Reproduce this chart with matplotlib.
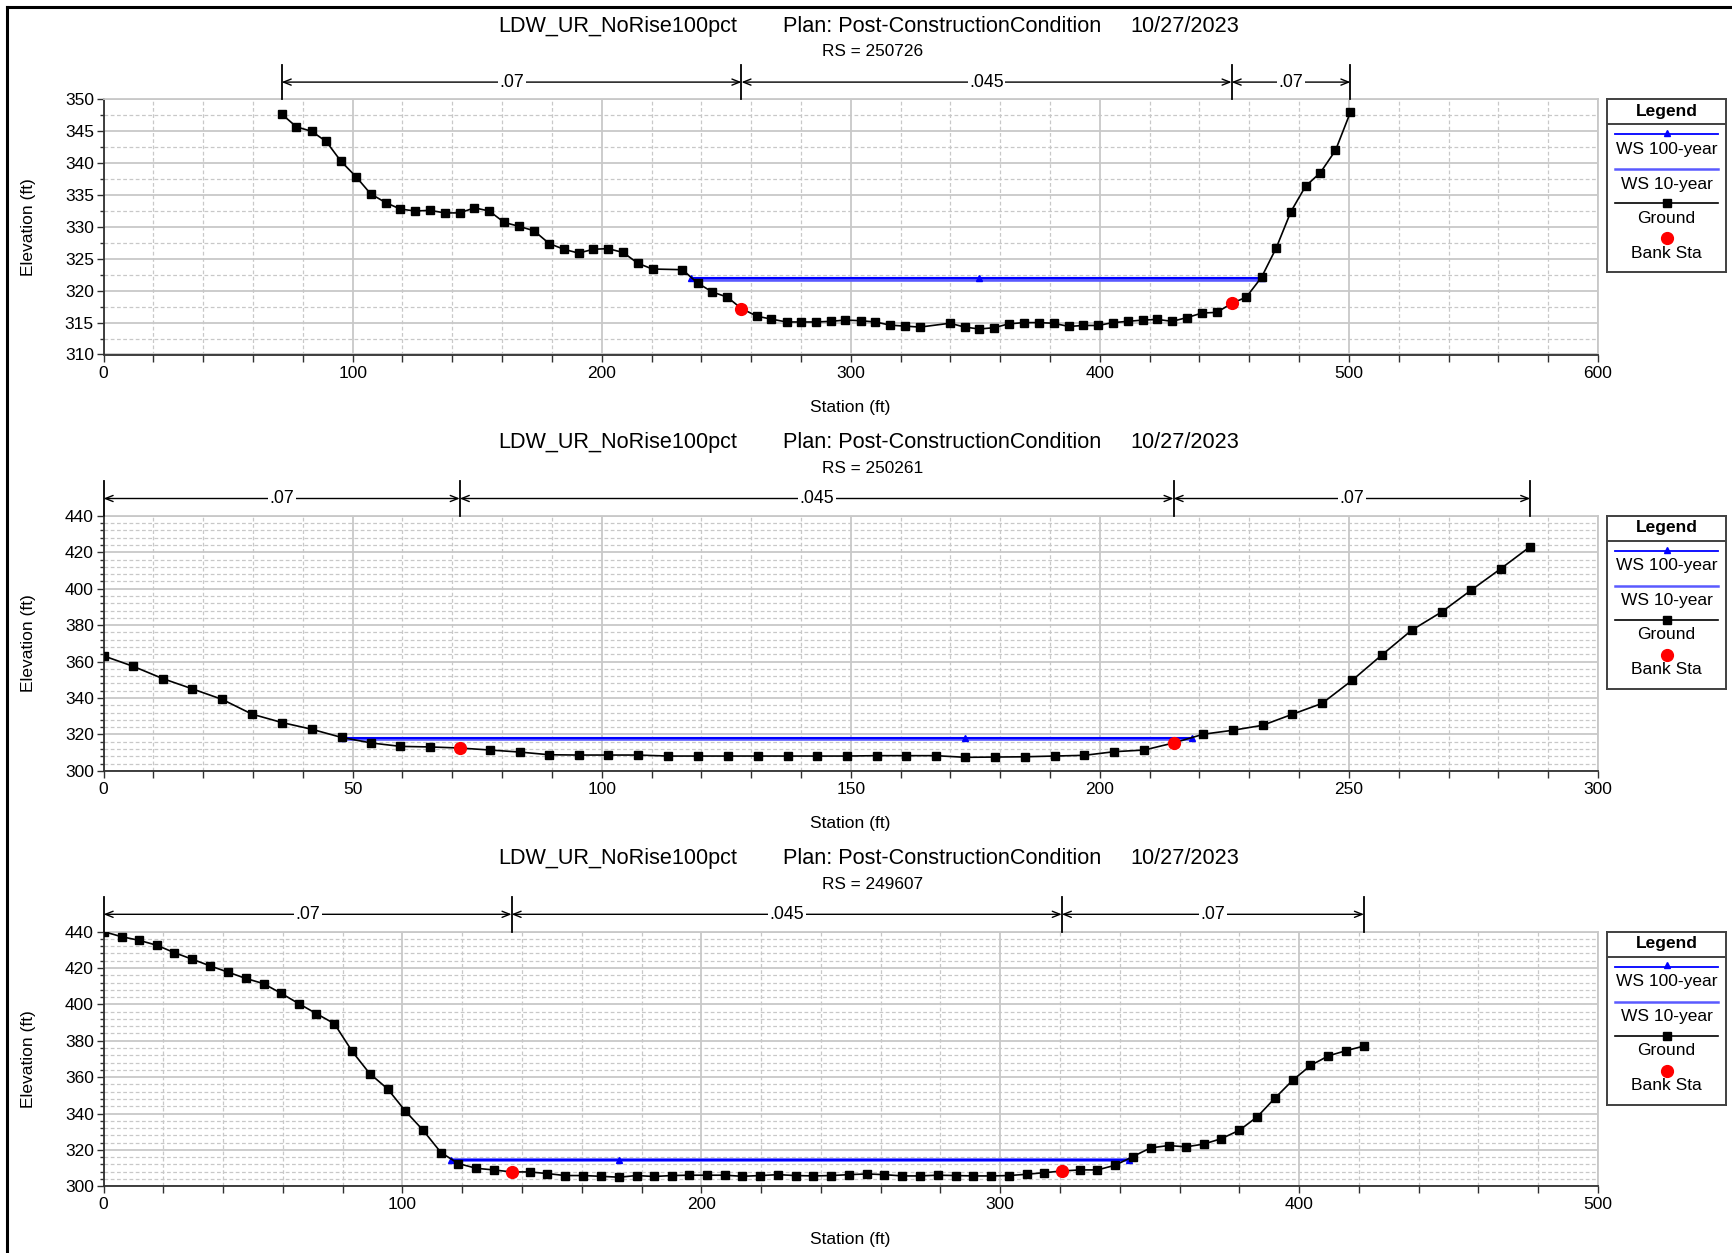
import matplotlib
matplotlib.use('Agg')
import matplotlib.pyplot as plt
import matplotlib.transforms as mtransforms
from matplotlib.lines import Line2D
from matplotlib.ticker import MultipleLocator

plt.rcParams['font.family'] = ['Liberation Sans', 'DejaVu Sans']

# ---------------- data ----------------
plan_name = "LDW_UR_NoRise100pct"
plan_text = "Plan: Post-ConstructionCondition"
date_text = "10/27/2023"
rs_labels = ["RS = 250726", "RS = 250261", "RS = 249607"]

# Panel 1 (RS 250726)
g1_sta = [71.5, 77.4, 83.5, 89.4, 95.3, 101.3, 107.2, 113.3, 119.2, 125.1, 131.0, 137.1,
          143.0, 148.9, 154.8, 160.9, 166.8, 172.8, 178.9, 184.8, 190.7, 196.6, 202.5,
          208.6, 214.5, 220.4, 232.4, 238.5, 244.4, 250.4, 256.1, 262.4, 268.1, 274.2,
          280.1, 286.0, 291.9, 297.8, 303.9, 309.9, 315.8, 321.7, 327.8, 339.8, 345.7,
          351.6, 357.5, 363.4, 369.5, 375.4, 381.4, 387.5, 393.4, 399.3, 405.2, 411.3,
          417.2, 423.1, 429.0, 435.1, 441.0, 446.9, 452.9, 458.8, 464.9, 470.8, 476.7,
          482.6, 488.5, 494.6, 500.6]
g1_elev = [347.7, 345.7, 345.0, 343.4, 340.3, 337.9, 335.2, 333.8, 332.8, 332.5, 332.6, 332.2,
           332.2, 333.0, 332.5, 330.7, 330.1, 329.4, 327.4, 326.5, 325.9, 326.5, 326.6,
           326.0, 324.3, 323.4, 323.3, 321.2, 319.8, 319.0, 317.2, 316.0, 315.55, 315.1,
           315.1, 315.1, 315.2, 315.4, 315.3, 315.1, 314.6, 314.45, 314.3, 314.9, 314.3,
           314.0, 314.2, 314.8, 315.0, 315.0, 314.9, 314.4, 314.55, 314.55, 315.0, 315.2,
           315.4, 315.5, 315.2, 315.8, 316.5, 316.6, 318.0, 319.0, 322.1, 326.7, 332.4,
           336.4, 338.5, 342.0, 348.0]
ws100_1_sta = [236.0, 351.6, 464.9]
ws100_1_elev = [322.05, 322.05, 322.05]
ws10_1_sta = [236.4, 464.6]
ws10_1_elev = [321.7, 321.7]
bank1_sta = [256.1, 452.9]
bank1_elev = [317.2, 318.0]
n1_breaks = [71.5, 256.1, 452.9, 500.6]
n1_values = [".07", ".045", ".07"]

# Panel 2 (RS 250261)
g2_sta = [0, 5.9, 11.9, 17.8, 23.8, 29.8, 35.8, 41.8, 47.8, 53.7, 59.6, 65.6, 71.5, 77.6,
          83.5, 89.5, 95.4, 101.3, 107.3, 113.3, 119.3, 125.3, 131.3, 137.3, 143.2, 149.2,
          155.2, 161.1, 167.1, 173.0, 179.0, 184.9, 190.9, 196.9, 202.9, 208.9, 214.8,
          220.8, 226.8, 232.7, 238.6, 244.6, 250.7, 256.7, 262.6, 268.6, 274.5, 280.5, 286.4]
g2_elev = [363.1, 357.4, 350.6, 345.0, 339.2, 331.1, 326.5, 322.8, 318.3, 315.3, 313.4, 313.1,
           312.5, 311.4, 310.3, 308.8, 308.65, 308.65, 308.65, 308.1, 308.1, 308.1, 308.1,
           308.1, 308.1, 308.1, 308.3, 308.3, 308.3, 307.4, 307.55, 307.7, 308.1, 308.5,
           310.5, 311.4, 315.3, 320.1, 322.3, 325.0, 331.0, 337.0, 349.8, 363.8, 377.2,
           387.2, 399.1, 411.0, 423.1]
ws100_2_sta = [47.8, 173.0, 218.4]
ws100_2_elev = [318.0, 318.0, 318.0]
ws10_2_sta = [48.3, 218.0]
ws10_2_elev = [317.6, 317.6]
bank2_sta = [71.5, 214.8]
bank2_elev = [312.5, 315.3]
n2_breaks = [0, 71.5, 214.8, 286.4]
n2_values = [".07", ".045", ".07"]

# Panel 3 (RS 249607)
g3_sta = [0, 6.0, 11.9, 17.8, 23.7, 29.7, 35.7, 41.5, 47.5, 53.5, 59.4, 65.3, 71.2, 77.2,
          83.2, 89.0, 95.0, 101.0, 106.9, 112.9, 118.7, 124.7, 130.5, 136.5, 142.5, 148.5,
          154.4, 160.4, 166.4, 172.4, 178.3, 184.2, 190.1, 196.0, 201.9, 207.8, 213.7,
          219.7, 225.7, 231.5, 237.5, 243.4, 249.4, 255.4, 261.2, 267.2, 273.1, 279.1,
          285.1, 291.0, 297.0, 302.8, 308.8, 314.8, 320.6, 326.6, 332.5, 338.5, 344.3,
          350.3, 356.3, 362.2, 368.1, 374.0, 380.0, 386.0, 391.8, 397.8, 403.8, 409.8,
          415.8, 421.7]
g3_elev = [440.0, 437.2, 435.2, 432.5, 428.4, 424.8, 421.1, 417.8, 414.3, 411.4, 406.1,
           400.4, 394.9, 389.4, 374.1, 362.0, 353.6, 341.3, 330.8, 318.5, 312.5, 309.9,
           309.0, 307.9, 307.9, 307.0, 305.9, 305.9, 305.5, 305.0, 305.9, 305.4, 305.9,
           306.1, 306.1, 306.1, 305.5, 305.9, 306.4, 305.9, 305.7, 305.9, 306.4, 306.8,
           306.4, 305.7, 305.7, 306.1, 305.9, 305.7, 305.7, 305.9, 306.6, 307.5, 308.4,
           309.0, 309.0, 311.6, 316.3, 321.1, 322.4, 321.7, 323.2, 326.2, 330.8, 338.2,
           348.3, 358.2, 366.4, 371.7, 374.6, 377.1]
ws100_3_sta = [116.2, 172.4, 343.0]
ws100_3_elev = [314.7, 314.7, 314.7]
ws10_3_sta = [116.6, 342.6]
ws10_3_elev = [314.3, 314.3]
bank3_sta = [136.5, 320.6]
bank3_elev = [307.9, 308.4]
n3_breaks = [0, 136.5, 320.6, 421.7]
n3_values = [".07", ".045", ".07"]

legend_labels = ["WS 100-year", "WS 10-year", "Ground", "Bank Sta"]

# ---------------- layout ----------------
W, H = 1732, 1253
fig = plt.figure(figsize=(W / 100, H / 100), dpi=100)
fig.patch.set_facecolor('white')


def rect(l, t, r, b):
    return [l / W, 1 - b / H, (r - l) / W, (b - t) / H]


def fxy(x, y):
    return x / W, 1 - y / H


WS100_C = '#0000ff'
WS10_C = '#5a5aff'
GRID_C = '#c8c8c8'
AX_C = '#303030'

panels = [
    dict(top=99.4, bottom=354.5, xlim=(0, 600), ylim=(310, 350), xmaj=100, xmin=20,
         ymaj=5, ymin=2.5, g=(g1_sta, g1_elev), ws100=(ws100_1_sta, ws100_1_elev),
         ws10=(ws10_1_sta, ws10_1_elev), bank=(bank1_sta, bank1_elev),
         nb=n1_breaks, nv=n1_values, rs=rs_labels[0]),
    dict(top=515.8, bottom=770.8, xlim=(0, 300), ylim=(300, 440), xmaj=50, xmin=10,
         ymaj=20, ymin=4, g=(g2_sta, g2_elev), ws100=(ws100_2_sta, ws100_2_elev),
         ws10=(ws10_2_sta, ws10_2_elev), bank=(bank2_sta, bank2_elev),
         nb=n2_breaks, nv=n2_values, rs=rs_labels[1]),
    dict(top=931.6, bottom=1186.3, xlim=(0, 500), ylim=(300, 440), xmaj=100, xmin=20,
         ymaj=20, ymin=4, g=(g3_sta, g3_elev), ws100=(ws100_3_sta, ws100_3_elev),
         ws10=(ws10_3_sta, ws10_3_elev), bank=(bank3_sta, bank3_elev),
         nb=n3_breaks, nv=n3_values, rs=rs_labels[2]),
]

AX_L, AX_R = 103.6, 1598.0

for p in panels:
    top, bot = p['top'], p['bottom']
    ax = fig.add_axes(rect(AX_L, top, AX_R, bot))
    ax.set_xlim(*p['xlim'])
    ax.set_ylim(*p['ylim'])
    ax.xaxis.set_major_locator(MultipleLocator(p['xmaj']))
    ax.xaxis.set_minor_locator(MultipleLocator(p['xmin']))
    ax.yaxis.set_major_locator(MultipleLocator(p['ymaj']))
    ax.yaxis.set_minor_locator(MultipleLocator(p['ymin']))
    ax.grid(which='major', color=GRID_C, lw=1.3, ls='-')
    ax.grid(which='minor', color=GRID_C, lw=0.9, ls=(0, (3, 2)))
    ax.set_axisbelow(True)
    for s in ['left', 'bottom']:
        ax.spines[s].set_color(AX_C)
        ax.spines[s].set_linewidth(1.3)
    for s in ['top', 'right']:
        ax.spines[s].set_color(GRID_C)
        ax.spines[s].set_linewidth(1.3)
    ax.tick_params(which='both', direction='out', color=AX_C, width=1.0, labelsize=12.5,
                   pad=2)
    ax.tick_params(axis='x', which='both', length=5, pad=3)
    ax.tick_params(axis='y', which='major', length=5)
    ax.tick_params(axis='y', which='minor', length=3)

    # water surfaces
    ax.plot(p['ws10'][0], p['ws10'][1], color=WS10_C, lw=2.6, zorder=3,
            solid_capstyle='butt')
    ax.plot(p['ws100'][0], p['ws100'][1], color=WS100_C, lw=1.5, zorder=3.5,
            marker='^', ms=5, mfc=WS100_C, mec=WS100_C, solid_capstyle='butt')
    # ground
    ax.plot(p['g'][0], p['g'][1], color='black', lw=1.2, marker='s', ms=5.5,
            mfc='black', mec='black', zorder=4)
    # bank stations
    ax.plot(p['bank'][0], p['bank'][1], ls='none', marker='o', ms=8.5, mfc='red',
            mec='red', zorder=5)

    # Manning's n bar
    trans = mtransforms.blended_transform_factory(ax.transData, ax.transAxes)
    hpx = bot - top
    ya = 1 + 17.3 / hpx
    yt = 1 + 34.5 / hpx
    for xb in p['nb']:
        ax.plot([xb, xb], [1, yt], transform=trans, color='black', lw=1.3,
                clip_on=False, zorder=6)
    for x0, x1, nv in zip(p['nb'][:-1], p['nb'][1:], p['nv']):
        ax.annotate('', xy=(x1, ya), xytext=(x0, ya), xycoords=trans, textcoords=trans,
                    arrowprops=dict(arrowstyle='<->,head_length=0.55,head_width=0.22',
                                    color='black', lw=1.0, shrinkA=0, shrinkB=0),
                    annotation_clip=False)
        ax.text((x0 + x1) / 2, ya, nv, transform=trans, ha='center', va='center',
                fontsize=12.8, bbox=dict(fc='white', ec='none', pad=1.2), zorder=7)

    # titles
    fig.text(*fxy(498, top - 73), plan_name, ha='left', va='center', fontsize=15.6)
    fig.text(*fxy(783, top - 73), plan_text, ha='left', va='center', fontsize=15.6)
    fig.text(*fxy(1130, top - 73), date_text, ha='left', va='center', fontsize=15.6)
    fig.text(*fxy(873, top - 47.5), p['rs'], ha='center', va='center', fontsize=12.4)

    # axis labels
    fig.text(*fxy(850, bot + 53), 'Station (ft)', ha='center', va='center', fontsize=12.5)
    fig.text(*fxy(28.5, (top + bot) / 2), 'Elevation (ft)', ha='center', va='center',
             rotation=90, fontsize=12.5)

    # legend box
    lax = fig.add_axes(rect(1607, top, 1726, top + 173))
    lax.set_xlim(0, 119)
    lax.set_ylim(173, 0)
    lax.set_xticks([])
    lax.set_yticks([])
    for s in lax.spines.values():
        s.set_color('#404040')
        s.set_linewidth(1.4)
    lax.axhline(25, color='#404040', lw=1.4)
    lax.text(59.5, 12, 'Legend', ha='center', va='center', fontsize=12.5,
             fontweight='bold')
    lax.plot([8, 111], [35, 35], color=WS100_C, lw=1.3)
    lax.plot([59.5], [33.8], marker='^', ms=5, color=WS100_C, ls='none')
    lax.text(59.5, 50, legend_labels[0], ha='center', va='center', fontsize=12.5)
    lax.plot([8, 111], [70, 70], color=WS10_C, lw=1.8)
    lax.text(59.5, 85, legend_labels[1], ha='center', va='center', fontsize=12.5)
    lax.plot([8, 111], [104, 104], color='black', lw=1.2)
    lax.plot([59.5], [104], marker='s', ms=5.5, color='black', ls='none')
    lax.text(59.5, 119, legend_labels[2], ha='center', va='center', fontsize=12.5)
    lax.plot([59.5], [139], marker='o', ms=8.5, color='red', ls='none')
    lax.text(59.5, 154, legend_labels[3], ha='center', va='center', fontsize=12.5)

# window frame lines
fig.add_artist(Line2D([6.5 / W, 6.5 / W], [0, 1 - 6.5 / H], transform=fig.transFigure,
                      color='black', lw=2.2))
fig.add_artist(Line2D([6.5 / W, 1], [1 - 6.5 / H, 1 - 6.5 / H], transform=fig.transFigure,
                      color='black', lw=2.2))

fig.savefig('out.png', dpi=100)
